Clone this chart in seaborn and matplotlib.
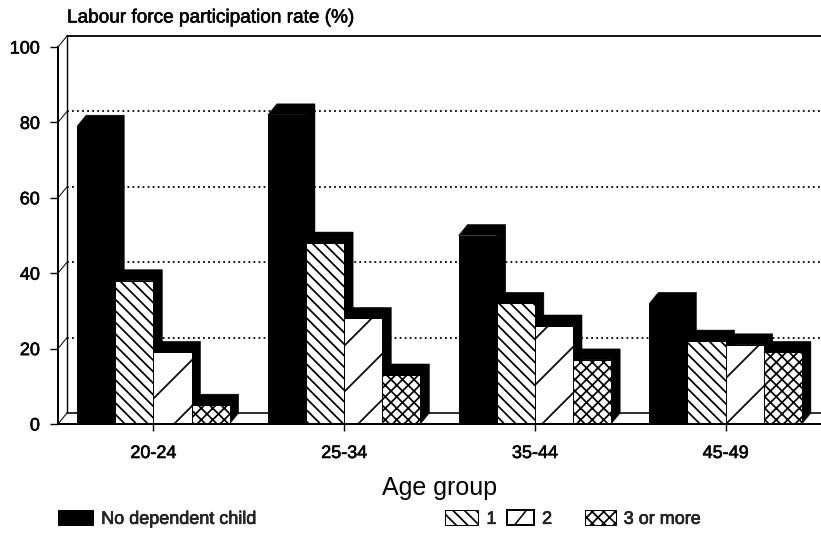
import numpy as np
import pandas as pd
import matplotlib
matplotlib.use("Agg")
import matplotlib.pyplot as plt
from matplotlib.patches import Polygon, Patch, Rectangle
from matplotlib.lines import Line2D
from matplotlib.legend_handler import HandlerPatch
import matplotlib.patheffects as pe
import seaborn as sns

# ---- data -------------------------------------------------------------
age_groups = ["20-24", "25-34", "35-44", "45-49"]
child_groups = ["No dependent child", "1", "2", "3 or more"]
rate_no_child = [79, 82, 50, 32]
rate_one = [38, 48, 32, 22]
rate_two = [19, 28, 26, 21]
rate_three_plus = [5, 13, 17, 19]
y_ticks = [0, 20, 40, 60, 80, 100]

face_colors = ["black", "white", "white", "white"]
hatches = ["", "\\\\\\\\", "/", "xxxx"]

df = pd.DataFrame({
    "age": age_groups * 4,
    "children": [c for c in child_groups for _ in age_groups],
    "rate": rate_no_child + rate_one + rate_two + rate_three_plus,
})

# ---- figure geometry (pixels) ----------------------------------------
DPI = 138
W, H = 821, 556
DX, DY = 9.0, 11.0          # depth offset of the extruded bars / back wall


def pt(px):
    return px * 72.0 / DPI


sns.set_theme(style="white")
plt.rcParams["font.family"] = ["Liberation Sans", "DejaVu Sans"]
plt.rcParams["hatch.linewidth"] = 0.9

# slightly heavier text strokes
bold_fx = [pe.withStroke(linewidth=pt(0.6), foreground="black")]

fig = plt.figure(figsize=(W / DPI, H / DPI), dpi=DPI)
fig.patch.set_facecolor("white")
ax = fig.add_axes([58 / W, 1 - 424 / H, (W - 58) / W, (424 - 47) / H])
ax.set_facecolor("white")

sns.barplot(data=df, x="age", y="rate", hue="children", hue_order=child_groups,
            order=age_groups, palette=face_colors, saturation=1, width=0.8,
            gap=0, legend=False, errorbar=None, ax=ax)

ax.set_xlim(-0.5, 3.5)
ax.set_ylim(0, 100)

# depth offsets converted into data units
o = ax.transData.transform((0, 0))
px_x = ax.transData.transform((1, 0))[0] - o[0]
px_y = ax.transData.transform((0, 1))[1] - o[1]
dx, dy = DX / px_x, DY / px_y

# ---- back wall ---------------------------------------------------------
x_wall = -0.5 + dx
for v in y_ticks[1:-1]:
    ax.plot([x_wall, 3.5], [v + dy, v + dy], color="black", lw=pt(1.8),
            linestyle=(0, (1.0, 1.8)), zorder=1, clip_on=False)
ax.plot([x_wall, 3.5], [100 + dy, 100 + dy], color="black", lw=pt(1.8),
        zorder=1, clip_on=False)
ax.plot([x_wall, 3.5], [dy, dy], color="black", lw=pt(1.6), zorder=1, clip_on=False)
ax.plot([x_wall, x_wall], [dy, 100 + dy], color="black", lw=pt(1.4), zorder=1,
        clip_on=False)
for v in y_ticks:
    ax.plot([-0.5, x_wall], [v, v + dy], color="black", lw=pt(1.0), zorder=1,
            clip_on=False)

# ---- extruded bars ---------------------------------------------------------
bars = []
for j, cont in enumerate(ax.containers):
    for i, rect in enumerate(cont.patches):
        bars.append((i, j, rect))
bars.sort(key=lambda b: (b[0], b[1]))

for k, (i, j, rect) in enumerate(bars):
    x0 = rect.get_x()
    x1 = x0 + rect.get_width()
    h = rect.get_height()
    shade = Polygon([(x0, h), (x0 + dx, h + dy), (x1 + dx, h + dy),
                     (x1 + dx, dy), (x1, 0), (x1, h)], closed=True,
                    facecolor="black", edgecolor="black", lw=pt(0.5),
                    zorder=3 + 2 * k, clip_on=False)
    ax.add_patch(shade)
    rect.set_facecolor(face_colors[j])
    rect.set_edgecolor("black")
    rect.set_hatch(hatches[j])
    rect.set_linewidth(pt(1.0))
    rect.set_zorder(4 + 2 * k)

# ---- axes, ticks, labels --------------------------------------------------
for s in ["top", "right"]:
    ax.spines[s].set_visible(False)
for s in ["left", "bottom"]:
    ax.spines[s].set_visible(True)
    ax.spines[s].set_color("black")
    ax.spines[s].set_linewidth(pt(2.0))
    ax.spines[s].set_zorder(200)

ax.set_yticks(y_ticks)
ax.set_yticklabels([str(v) for v in y_ticks])
ax.tick_params(axis="y", left=True, length=pt(8), width=pt(1.4), pad=pt(10),
               labelsize=pt(18), colors="black", direction="out")
ax.tick_params(axis="x", bottom=True, length=pt(7), width=pt(1.4), pad=pt(14),
               labelsize=pt(18), colors="black", direction="out")
for lab in ax.get_xticklabels() + ax.get_yticklabels():
    lab.set_path_effects(bold_fx)
ax.grid(False)
ax.set_ylabel("")
ax.set_xlabel("Age group", fontsize=pt(25), labelpad=pt(14), color="black")

fig.text(67 / W, 1 - 18 / H, "Labour force participation rate (%)",
         fontsize=pt(19), ha="left", va="center", color="black",
         path_effects=bold_fx)


# ---- legend ------------------------------------------------------------
class DiagonalBoxHandler(HandlerPatch):
    """Open box (regular patch handle) with a single diagonal stroke."""

    def create_artists(self, legend, orig_handle, xdescent, ydescent, width,
                       height, fontsize, trans):
        box = Rectangle((-xdescent, -ydescent), width, height,
                        facecolor="white", edgecolor="black", lw=pt(2.0),
                        transform=trans)
        stroke = Line2D([-xdescent + 0.3 * width, -xdescent + 0.7 * width],
                        [-ydescent + 0.05 * height, -ydescent + 0.95 * height],
                        color="black", lw=pt(1.6), transform=trans)
        return [box, stroke]


legend_x = [58, 445, 507, 585]
handle_len = [1.95, 1.85, 1.5, 1.7]
legend_y = 1 - 519 / H
for j, (name, fc, hatch, lx) in enumerate(zip(child_groups, face_colors, hatches,
                                               legend_x)):
    handle = Patch(facecolor=fc, edgecolor="black", hatch=hatch, lw=pt(1.0))
    hmap = {handle: DiagonalBoxHandler()} if hatch == "/" else None
    leg = fig.legend(handles=[handle], labels=[name], loc="center left",
                     bbox_to_anchor=(lx / W, legend_y), frameon=False,
                     fontsize=pt(18), handlelength=handle_len[j], handleheight=0.9,
                     handletextpad=0.45, borderpad=0, borderaxespad=0,
                     handler_map=hmap)
    for t in leg.get_texts():
        t.set_path_effects(bold_fx)

fig.savefig("out.png", dpi=DPI, facecolor="white")
